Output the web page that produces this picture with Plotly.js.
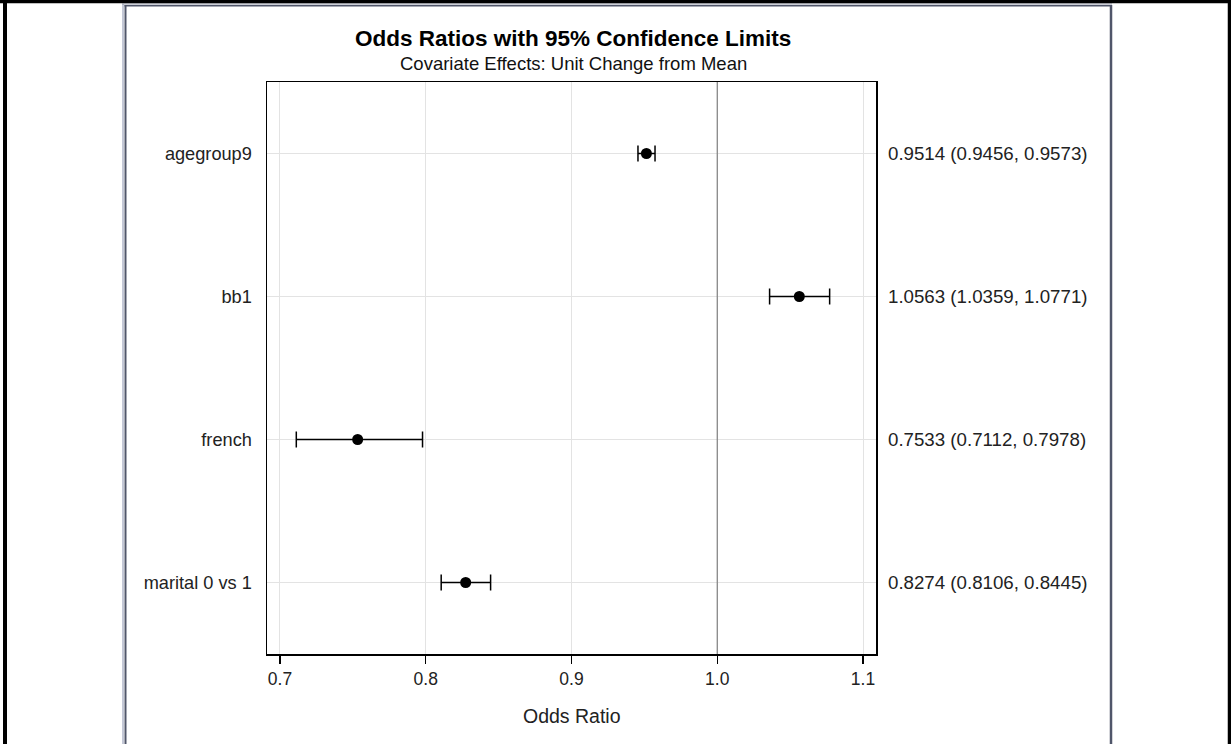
<!DOCTYPE html>
<html>
<head>
<meta charset="utf-8">
<script src="https://cdn.plot.ly/plotly-3.0.1.min.js"></script>
<style>
  html, body { margin: 0; padding: 0; background: #ffffff; }
  #chart { width: 1231px; height: 744px; }
</style>
</head>
<body>
<div id="chart"></div>
<script>
// Odds ratio estimates with 95% Wald confidence limits
const effects   = ['agegroup9', 'bb1', 'french', 'marital 0 vs 1'];
const oddsRatio = [0.9514, 1.0563, 0.7533, 0.8274];
const lowerCL   = [0.9456, 1.0359, 0.7112, 0.8106];
const upperCL   = [0.9573, 1.0771, 0.7978, 0.8445];
const xTicks    = [0.7, 0.8, 0.9, 1.0, 1.1];
const xTickText = ['0.7', '0.8', '0.9', '1.0', '1.1'];

const W = 1231, H = 744;
const M = { l: 267, r: 355, t: 82, b: 90 };
const plotW = W - M.l - M.r, plotH = H - M.t - M.b;
// pixel -> paper helpers for decorations placed outside the plot area
const px = p => (p - M.l) / plotW;
const py = p => (H - M.b - p) / plotH;

const fmt = v => v.toFixed(4);
const ciLabels = effects.map((_, i) =>
  fmt(oddsRatio[i]) + ' (' + fmt(lowerCL[i]) + ', ' + fmt(upperCL[i]) + ')');

const font = 'Arial, "Liberation Sans", sans-serif';

const trace = {
  type: 'scatter',
  mode: 'markers',
  x: oddsRatio,
  y: effects,
  marker: { color: '#000000', size: 11, symbol: 'circle' },
  error_x: {
    type: 'data',
    symmetric: false,
    array: upperCL.map((u, i) => u - oddsRatio[i]),
    arrayminus: oddsRatio.map((o, i) => o - lowerCL[i]),
    color: '#000000',
    thickness: 1.5,
    width: 8
  },
  hoverinfo: 'x+y',
  showlegend: false
};

const annotations = [
  { text: '<b>Odds Ratios with 95% Confidence Limits</b>', xref: 'paper', yref: 'paper',
    x: px(573), y: py(38), xanchor: 'center', yanchor: 'middle', showarrow: false,
    font: { family: font, size: 22.5, color: '#000000' } },
  { text: 'Covariate Effects: Unit Change from Mean', xref: 'paper', yref: 'paper',
    x: px(573), y: py(63), xanchor: 'center', yanchor: 'middle', showarrow: false,
    font: { family: font, size: 18.5, color: '#111111' } },
  { text: 'Odds Ratio', xref: 'paper', yref: 'paper',
    x: px(572), y: py(716), xanchor: 'center', yanchor: 'middle', showarrow: false,
    font: { family: font, size: 19.5, color: '#222222' } }
].concat(effects.map((e, i) => ({
  text: ciLabels[i], xref: 'paper', yref: 'y', x: px(886), y: e,
  xanchor: 'left', yanchor: 'middle', showarrow: false,
  font: { family: font, size: 18.7, color: '#222222' }
})));

const shapes = [
  // reference line at OR = 1
  { type: 'line', xref: 'x', yref: 'paper', x0: 1, x1: 1, y0: 0, y1: 1,
    line: { color: '#808080', width: 1.2 }, layer: 'above' },
  // output window frame
  { type: 'line', xref: 'paper', yref: 'paper', x0: px(123), x1: px(123), y0: py(4), y1: py(760),
    line: { color: '#c4c8d6', width: 2 } },
  { type: 'line', xref: 'paper', yref: 'paper', x0: px(125.5), x1: px(125.5), y0: py(5), y1: py(760),
    line: { color: '#50566a', width: 2 } },
  { type: 'line', xref: 'paper', yref: 'paper', x0: px(1111), x1: px(1111), y0: py(5), y1: py(760),
    line: { color: '#50566a', width: 2.5 } },
  { type: 'line', xref: 'paper', yref: 'paper', x0: px(122), x1: px(1112), y0: py(4), y1: py(4),
    line: { color: '#9a9eae', width: 1 } },
  { type: 'line', xref: 'paper', yref: 'paper', x0: px(124.5), x1: px(1112), y0: py(5.8), y1: py(5.8),
    line: { color: '#50566a', width: 1.5 } },
  // outer black border
  { type: 'line', xref: 'paper', yref: 'paper', x0: px(0), x1: px(W), y0: py(1.5), y1: py(1.5),
    line: { color: '#000000', width: 3.5 } },
  { type: 'line', xref: 'paper', yref: 'paper', x0: px(5), x1: px(5), y0: py(0), y1: py(H),
    line: { color: '#000000', width: 4 } },
  { type: 'line', xref: 'paper', yref: 'paper', x0: px(1229.5), x1: px(1229.5), y0: py(0), y1: py(H),
    line: { color: '#000000', width: 3.5 } }
];

const layout = {
  width: W, height: H,
  margin: M,
  paper_bgcolor: '#ffffff',
  plot_bgcolor: '#ffffff',
  font: { family: font, size: 17, color: '#222222' },
  xaxis: {
    range: [0.7 - 13 / 1460, 1.1 + 13 / 1460],
    tickvals: xTicks, ticktext: xTickText,
    ticks: 'outside', ticklen: 8, tickwidth: 1.3, tickcolor: '#000000',
    tickfont: { family: font, size: 17.5, color: '#222222' },
    showgrid: true, gridcolor: '#e3e3e3', gridwidth: 1,
    showline: true, linecolor: '#000000', linewidth: 1.5, mirror: true,
    zeroline: false, fixedrange: true
  },
  yaxis: {
    type: 'category',
    categoryorder: 'array', categoryarray: effects,
    range: [3.5, -0.5],
    ticks: '', ticklabelstandoff: 10,
    tickfont: { family: font, size: 18.2, color: '#222222' },
    showgrid: true, gridcolor: '#e3e3e3', gridwidth: 1,
    showline: true, linecolor: '#000000', linewidth: 1.5, mirror: true,
    zeroline: false, fixedrange: true
  },
  annotations: annotations,
  shapes: shapes
};

Plotly.newPlot('chart', [trace], layout, { displayModeBar: false, staticPlot: true });
</script>
</body>
</html>
